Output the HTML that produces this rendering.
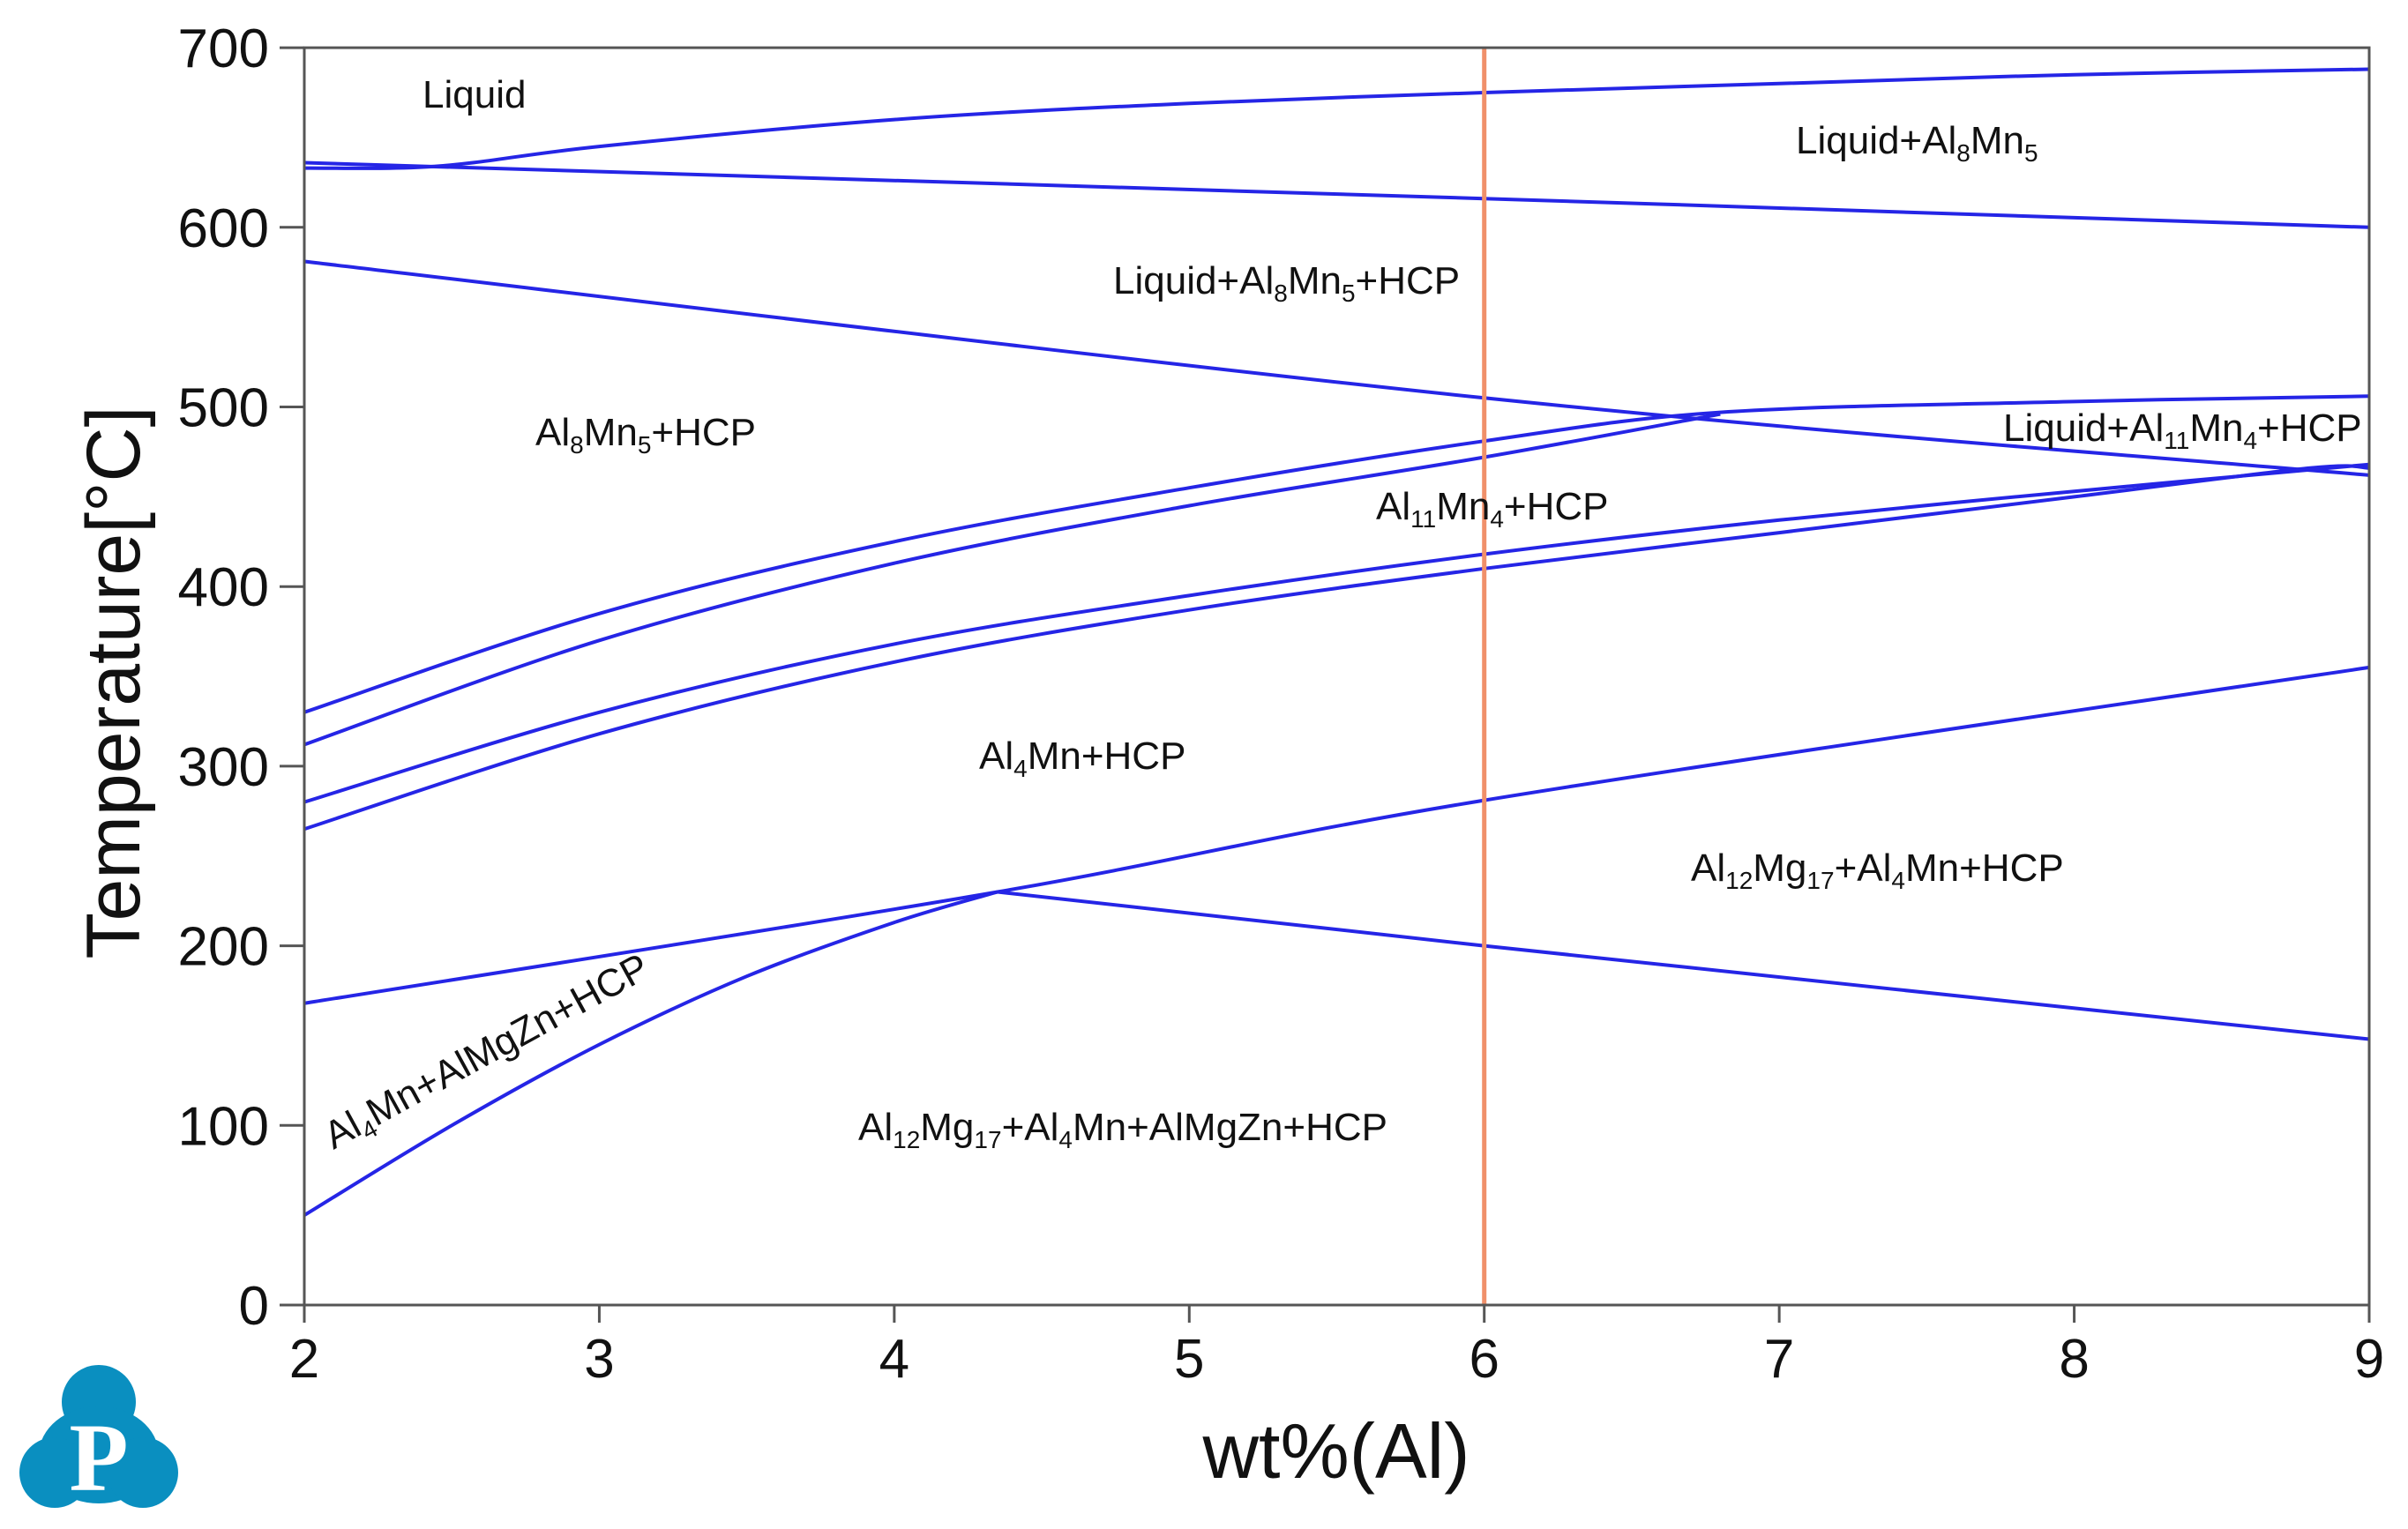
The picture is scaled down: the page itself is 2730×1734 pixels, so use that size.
<!DOCTYPE html>
<html><head><meta charset="utf-8"><style>
body{margin:0;background:#fff}
svg{display:block}
text{font-family:"Liberation Sans",Arial,sans-serif;fill:#111}
.lbl{font-size:44px}
.tk{font-size:62px}
</style></head><body>
<svg id="chart" width="2730" height="1734" viewBox="0 0 2730 1734">
<g id="curves"></g>
<g id="axes"></g>
<g>
<text class="lbl" x="479" y="122">Liquid</text>
<text class="lbl" x="2036" y="174">Liquid+Al<tspan font-size="28" dy="9">8</tspan><tspan dy="-9">Mn</tspan><tspan font-size="28" dy="9">5</tspan></text>
<text class="lbl" x="1262" y="333">Liquid+Al<tspan font-size="28" dy="9">8</tspan><tspan dy="-9">Mn</tspan><tspan font-size="28" dy="9">5</tspan><tspan dy="-9">+HCP</tspan></text>
<text class="lbl" x="607" y="505">Al<tspan font-size="28" dy="9">8</tspan><tspan dy="-9">Mn</tspan><tspan font-size="28" dy="9">5</tspan><tspan dy="-9">+HCP</tspan></text>
<text class="lbl" x="2271" y="500">Liquid+Al<tspan font-size="28" dy="9">11</tspan><tspan dy="-9">Mn</tspan><tspan font-size="28" dy="9">4</tspan><tspan dy="-9">+HCP</tspan></text>
<text class="lbl" x="1560" y="589">Al<tspan font-size="28" dy="9">11</tspan><tspan dy="-9">Mn</tspan><tspan font-size="28" dy="9">4</tspan><tspan dy="-9">+HCP</tspan></text>
<text class="lbl" x="1110" y="872">Al<tspan font-size="28" dy="9">4</tspan><tspan dy="-9">Mn+HCP</tspan></text>
<text class="lbl" x="1917" y="999">Al<tspan font-size="28" dy="9">12</tspan><tspan dy="-9">Mg</tspan><tspan font-size="28" dy="9">17</tspan><tspan dy="-9">+Al</tspan><tspan font-size="28" dy="9">4</tspan><tspan dy="-9">Mn+HCP</tspan></text>
<text class="lbl" x="973" y="1293">Al<tspan font-size="28" dy="9">12</tspan><tspan dy="-9">Mg</tspan><tspan font-size="28" dy="9">17</tspan><tspan dy="-9">+Al</tspan><tspan font-size="28" dy="9">4</tspan><tspan dy="-9">Mn+AlMgZn+HCP</tspan></text>
<text class="lbl" x="0" y="0" transform="translate(378,1304) rotate(-28.7)">Al<tspan font-size="28" dy="9">4</tspan><tspan dy="-9">Mn+AlMgZn+HCP</tspan></text>
</g>
<text x="1515" y="1676" font-size="88" text-anchor="middle">wt%(Al)</text>
<text x="0" y="0" font-size="86" text-anchor="middle" transform="translate(158,774) rotate(-90)">Temperature[°C]</text>
<g fill="#0a8fc0">
<circle cx="112" cy="1590" r="42"/>
<ellipse cx="112" cy="1650" rx="68" ry="55"/>
<circle cx="62" cy="1670" r="40"/>
<circle cx="162" cy="1670" r="40"/>
<text x="112" y="1690" font-size="110" font-weight="bold" text-anchor="middle" style="fill:#fff;font-family:'Liberation Serif',serif">P</text>
</g>
</svg>
<script>
const xTicks=[2,3,4,5,6,7,8,9];
const yTicks=[0,100,200,300,400,500,600,700];
const liquidusX=[2,2.45,3,4,5,6,7,8,9];
const liquidusT=[633,634,645,660,669,675,680,685,688];
const solidusX=[2,6,9];
const solidusT=[636,616,600];
const hcpStartX=[2,6,9];
const hcpStartT=[581,505,462];
const al11UpperX=[2,3,4,5,6,6.8,8,9];
const al11UpperT=[330,385,425,455,481,497,503,506];
const al11LowerX=[2,3,4,5,6,6.8];
const al11LowerT=[312,370,413,445,472,496];
const al4UpperX=[2,3,4,5,6,7,8,9];
const al4UpperT=[280,330,368,395,418,437,453,468];
const al4LowerX=[2,3,4,5,6,7,8,8.8,9];
const al4LowerT=[265,318,358,387,410,430,450,466,466];
const mg17X=[2,4.35,6,9];
const mg17T=[168,230,281,355];
const almgznX=[2,2.5,3,3.5,4,4.35];
const almgznT=[50,100,145,183,213,230];
const almgzn2X=[4.35,6,9];
const almgzn2T=[230,200,148];
const sectionX=[6];

const X0=345,XU=334.43,Y0=1480,YU=2.037;
const sx=v=>X0+(v-2)*XU, sy=v=>Y0-v*YU;
const NS="http://www.w3.org/2000/svg";
const cg=document.getElementById('curves'), ag=document.getElementById('axes');
function mk(tag,at,par){const e=document.createElementNS(NS,tag);for(const k in at)e.setAttribute(k,at[k]);par.appendChild(e);return e;}
function curve(xs,ts,name){
  const P=xs.map((x,i)=>[sx(x),sy(ts[i])]);
  let d='M'+P[0][0].toFixed(1)+','+P[0][1].toFixed(1);
  for(let i=0;i<P.length-1;i++){
    const p0=P[Math.max(i-1,0)],p1=P[i],p2=P[i+1],p3=P[Math.min(i+2,P.length-1)];
    const c1=[p1[0]+(p2[0]-p0[0])/6,p1[1]+(p2[1]-p0[1])/6];
    const c2=[p2[0]-(p3[0]-p1[0])/6,p2[1]-(p3[1]-p1[1])/6];
    d+=' C'+c1.map(v=>v.toFixed(1)).join(',')+' '+c2.map(v=>v.toFixed(1)).join(',')+' '+p2.map(v=>v.toFixed(1)).join(',');
  }
  const p=mk('path',{d:d,fill:'none',stroke:'#2525e6','stroke-width':4,'stroke-linejoin':'round'},cg);
  
  
}
curve(liquidusX,liquidusT,'liquidus-line');
curve(solidusX,solidusT,'al8mn5-boundary');
curve(hcpStartX,hcpStartT,'hcp-start-line');
curve(al11UpperX,al11UpperT,'al11mn4-upper');
curve(al11LowerX,al11LowerT,'al11mn4-lower');
curve(al4UpperX,al4UpperT,'al4mn-upper');
curve(al4LowerX,al4LowerT,'al4mn-lower');
curve(mg17X,mg17T,'al12mg17-solvus');
curve(almgznX,almgznT,'almgzn-solvus');
curve(almgzn2X,almgzn2T,'almgzn-boundary');
sectionX.forEach(v=>{
  const l=mk('line',{x1:sx(v),x2:sx(v),y1:sy(700),y2:sy(0),stroke:'#f0906a','stroke-width':5},cg);
  
  
});
const fr=mk('rect',{x:sx(2),y:sy(700),width:sx(9)-sx(2),height:sy(0)-sy(700),fill:'none',stroke:'#555','stroke-width':3},ag);


yTicks.forEach(v=>{
  mk('line',{x1:sx(2)-28,x2:sx(2),y1:sy(v),y2:sy(v),stroke:'#555','stroke-width':3},ag);
  const t=mk('text',{x:sx(2)-40,y:sy(v)+22,'text-anchor':'end',class:'tk'},ag);
  t.textContent=v;
  
  
});
xTicks.forEach(v=>{
  mk('line',{x1:sx(v),x2:sx(v),y1:sy(0),y2:sy(0)+20,stroke:'#555','stroke-width':3},ag);
  const t=mk('text',{x:sx(v),y:sy(0)+82,'text-anchor':'middle',class:'tk'},ag);
  t.textContent=v;
  
  
});
</script>
</body></html>
